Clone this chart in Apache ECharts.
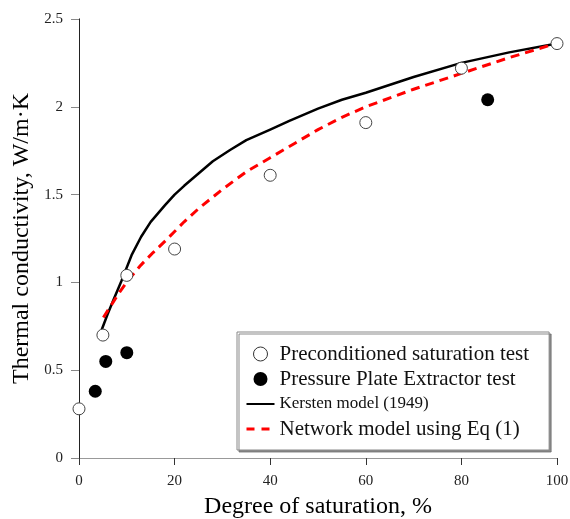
<!DOCTYPE html>
<html>
<head>
<meta charset="utf-8">
<script src="https://cdn.jsdelivr.net/npm/echarts@6/dist/echarts.min.js"></script>
<style>
html,body{margin:0;padding:0;background:#fff;}
#chart{width:570px;height:519px;}
</style>
</head>
<body>
<div id="chart"></div>
<script>
// Data
var xTicks = [0, 20, 40, 60, 80, 100];
var yTicks = [0, 0.5, 1, 1.5, 2, 2.5];

var precondX = [0, 5, 10, 20, 40, 60, 80, 100];
var precondY = [0.28, 0.70, 1.04, 1.19, 1.61, 1.91, 2.22, 2.36];

var plateX = [3.4, 5.6, 10, 85.5];
var plateY = [0.38, 0.55, 0.60, 2.04];

var kerstenX = [4.75, 6, 7.2, 8.9, 11, 13, 15, 18, 20, 22, 25, 28, 31.6, 35, 40, 44, 50, 55, 60, 70, 80, 90, 100];
var kerstenY = [0.73, 0.82, 0.90, 1.01, 1.155, 1.26, 1.345, 1.44, 1.50, 1.55, 1.62, 1.69, 1.754, 1.81, 1.87, 1.92, 1.99, 2.04, 2.08, 2.17, 2.25, 2.31, 2.36];

var networkX = [5.1, 6.5, 8.5, 10.5, 13, 15.5, 18, 20, 22, 25, 30, 35, 40, 45, 50, 55, 60, 70, 80, 90, 98.5];
var networkY = [0.80, 0.86, 0.945, 1.02, 1.10, 1.17, 1.235, 1.29, 1.345, 1.42, 1.53, 1.63, 1.71, 1.79, 1.87, 1.94, 2.00, 2.10, 2.19, 2.28, 2.35];

var names = ['Preconditioned saturation test', 'Pressure Plate Extractor test', 'Kersten model (1949)', 'Network model using Eq (1)'];

function pairs(xs, ys) { return xs.map(function (x, i) { return [x, ys[i]]; }); }

var serif = '"Liberation Serif", "Times New Roman", serif';
var noSym = {color: 'rgba(0,0,0,0)', borderColor: 'rgba(0,0,0,0)', borderWidth: 0, opacity: 0};
var chart = echarts.init(document.getElementById('chart'), null, {renderer: 'canvas'});
chart.setOption({
  animation: false,
  backgroundColor: '#fff',
  grid: {left: 79, top: 19, right: 13, bottom: 61, containLabel: false, outerBoundsMode: 'none'},
  xAxis: [{
    type: 'value', min: 0, max: 100, interval: 20,
    axisLine: {lineStyle: {color: '#333', width: 1}},
    axisTick: {inside: false, length: 7, lineStyle: {color: '#333'}},
    axisLabel: {fontFamily: serif, fontSize: 15, color: '#222', margin: 16,
      formatter: function (v) { return xTicks.indexOf(v) >= 0 ? String(v) : ''; }},
    splitLine: {show: false},
    name: 'Degree of saturation, %', nameLocation: 'middle', nameGap: 37,
    nameTextStyle: {fontFamily: serif, fontSize: 24, color: '#000'}
  }, {
    type: 'value', min: 0, max: 100, position: 'top',
    axisLine: {show: true, lineStyle: {color: '#999', width: 1}},
    axisTick: {show: false}, axisLabel: {show: false}, splitLine: {show: false}
  }],
  yAxis: [{
    type: 'value', min: 0, max: 2.5, interval: 0.5,
    axisLine: {show: true, lineStyle: {color: '#888', width: 1}},
    axisTick: {show: true, inside: false, length: 8, lineStyle: {color: '#888'}},
    axisLabel: {fontFamily: serif, fontSize: 15, color: '#222', margin: 16,
      formatter: function (v) { return yTicks.indexOf(v) >= 0 ? String(v) : ''; }},
    splitLine: {show: false},
    name: 'Thermal conductivity, W/m·K', nameLocation: 'middle', nameGap: 44,
    nameTextStyle: {fontFamily: serif, fontSize: 24, color: '#000'}
  }, {
    type: 'value', min: 0, max: 2.5, position: 'right',
    axisLine: {show: true, lineStyle: {color: '#222', width: 1}},
    axisTick: {show: false}, axisLabel: {show: false}, splitLine: {show: false}
  }],
  legend: {
    orient: 'vertical', left: 237, top: 332,
    padding: [11, 20, 10, 8],
    itemWidth: 28, itemHeight: 14, itemGap: 3,
    backgroundColor: '#fff',
    borderColor: '#888', borderWidth: 1,
    shadowColor: 'rgba(110,110,110,0.8)', shadowOffsetX: 2, shadowOffsetY: 2, shadowBlur: 0,
    textStyle: {fontFamily: serif, fontSize: 21, color: '#111', lineHeight: 22},
    data: [
      {name: names[0], itemStyle: {color: '#fff', borderColor: '#333', borderWidth: 1}},
      {name: names[1], itemStyle: {color: '#000', borderWidth: 0}},
      {name: names[2], textStyle: {fontSize: 17, lineHeight: 22},
        itemStyle: noSym, lineStyle: {color: '#000', width: 2, type: 'solid'}},
      {name: names[3], itemStyle: noSym, lineStyle: {color: '#ff0000', width: 3, type: [8, 7]}}
    ]
  },
  series: [
    {
      name: names[2], type: 'line', data: pairs(kerstenX, kerstenY),
      smooth: false, showSymbol: false, symbol: 'none',
      lineStyle: {color: '#000', width: 2.5, join: 'round'}, itemStyle: {color: '#000'}, z: 2
    },
    {
      name: names[3], type: 'line', data: pairs(networkX, networkY),
      smooth: false, showSymbol: false, symbol: 'none',
      lineStyle: {color: '#ff0000', width: 3, type: [9, 6]}, itemStyle: {color: '#ff0000'}, z: 2
    },
    {
      name: names[0], type: 'scatter', data: pairs(precondX, precondY),
      symbol: 'circle', symbolSize: 12,
      itemStyle: {color: '#fff', borderColor: '#444', borderWidth: 1, opacity: 1}, z: 3
    },
    {
      name: names[1], type: 'scatter', data: pairs(plateX, plateY),
      symbol: 'circle', symbolSize: 13,
      itemStyle: {color: '#000', opacity: 1}, z: 3
    }
  ]
});
</script>
</body>
</html>
